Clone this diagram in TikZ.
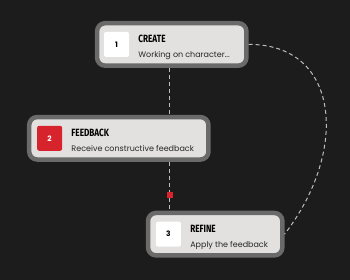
\documentclass[tikz,border=0pt]{standalone}
\usepackage{fontspec}
\setmainfont{Poppins}
\newfontfamily\headfont{Fira Sans}[FakeStretch=0.78]
\usepackage{xcolor}
\usepackage{tikz}
\usetikzlibrary{arrows.meta,positioning,calc}

\definecolor{bgdark}{HTML}{1C1C1C}
\definecolor{frame}{HTML}{6A6A6A}
\definecolor{card}{HTML}{E2E1DF}
\definecolor{accent}{HTML}{D7232B}
\definecolor{linkgray}{HTML}{BDBDBD}

\begin{document}
\begin{tikzpicture}[
  x=1pt, y=-1pt,
  stage/.style={draw=frame, fill=card, line width=4.5pt, rounded corners=8pt,
    minimum height=42.5pt, inner sep=0pt},
  badge/.style={fill=white, rounded corners=2pt, minimum width=25pt, minimum height=25pt,
    inner sep=0pt, font=\fontsize{7.5}{9}\selectfont\bfseries},
  head/.style={anchor=base west, inner sep=0pt, font=\headfont\bfseries\fontsize{10.5}{12}\selectfont},
  body/.style={anchor=base west, inner sep=0pt, font=\fontsize{8}{10}\selectfont, text=black!85},
  link/.style={draw=linkgray, line width=1pt, dash pattern=on 4pt off 3pt}
]
\fill[bgdark] (0,0) rectangle (350,280);

% stages
\node[stage, minimum width=149.5pt] (create) at (172,44.5) {};
\node[stage, minimum width=179.5pt] (feedback) at (119,138.5) {};
\node[stage, minimum width=134.5pt] (refine) at (215.5,234.5) {};

\node[badge, right=9pt of create.west] (n1) {1};
\node[head] (t1) at ($(n1.east)+(9,-1.5)$) {CREATE};
\node[body] (d1) at ($(n1.east)+(9,13.5)$) {Working on character...};

\node[badge, fill=accent, text=white, right=10pt of feedback.west] (n2) {2};
\node[head] (t2) at ($(n2.east)+(9,-1.5)$) {FEEDBACK};
\node[body] (d2) at ($(n2.east)+(9,13.5)$) {Receive constructive feedback};

\node[badge, right=10pt of refine.west] (n3) {3};
\node[head] (t3) at ($(n3.east)+(9,-1.5)$) {REFINE};
\node[body] (d3) at ($(n3.east)+(9,13.5)$) {Apply the feedback};

% connectors
\node[fill=accent, minimum size=6pt, inner sep=0pt] (dot) at (170,195) {};
\begin{scope}[on background layer/.style={}]
\draw[link] (create.south -| dot) -- (feedback.north -| dot);
\draw[link] (feedback.south -| dot) -- (dot.north);
\draw[link] (dot.south) -- (refine.north -| dot);
\draw[link] (create.east) .. controls (340,44) and (350,150) .. (refine.east);
\end{scope}
\end{tikzpicture}
\end{document}
